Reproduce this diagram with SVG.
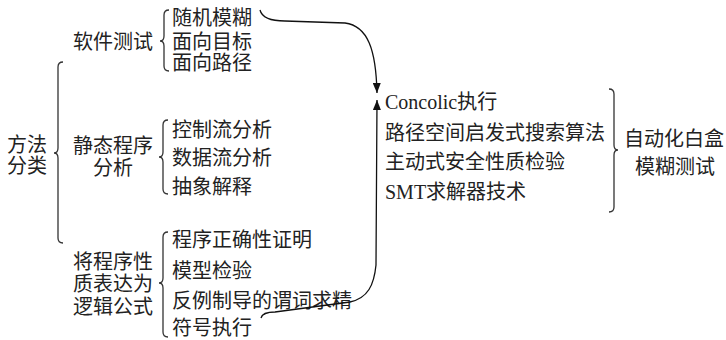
<svg xmlns="http://www.w3.org/2000/svg" width="726" height="340" viewBox="0 0 726 340">
<defs>
<style>
text{font-family:"Liberation Serif","Noto Sans CJK SC",serif;font-size:20px;fill:#222}
.b{fill:none;stroke:#333;stroke-width:1.3}
.c{fill:none;stroke:#111;stroke-width:1.3}
</style>
<marker id="ah" markerUnits="userSpaceOnUse" markerWidth="10" markerHeight="8" refX="10" refY="4" orient="auto">
<path d="M0,0 L10,4 L0,8 z" fill="#111"/>
</marker>
</defs>
<rect width="726" height="340" fill="#fff"/>
<g id="root">
<text x="7" y="152">方法</text>
<text x="7" y="173">分类</text>
<path class="b" d="M63,62 Q58,62 58,67 L58,148 Q58,153 54,153 Q58,153 58,158 L58,238 Q58,243 63,243"/>
</g>
<g id="software-testing">
<text x="73" y="49">软件测试</text>
<path class="b" d="M169,10 Q164,10 164,15 L164,36 Q164,41 160,41 Q164,41 164,46 L164,66 Q164,71 169,71"/>
<text x="172" y="25">随机模糊</text>
<text x="172" y="49">面向目标</text>
<text x="172" y="70">面向路径</text>
</g>
<g id="static-analysis">
<text x="113" y="153" text-anchor="middle">静态程序</text>
<text x="113" y="175" text-anchor="middle">分析</text>
<path class="b" d="M168,120 Q163,120 163,125 L163,152 Q163,157 159,157 Q163,157 163,162 L163,189 Q163,194 168,194"/>
<text x="172" y="137">控制流分析</text>
<text x="172" y="165">数据流分析</text>
<text x="172" y="194">抽象解释</text>
</g>
<g id="logic-formula">
<text x="73" y="269">将程序性</text>
<text x="73" y="291">质表达为</text>
<text x="73" y="314">逻辑公式</text>
<path class="b" d="M168,232 Q163,232 163,237 L163,278 Q163,283 159,283 Q163,283 163,288 L163,332 Q163,337 168,337"/>
<text x="172" y="247">程序正确性证明</text>
<text x="172" y="278">模型检验</text>
<text x="172" y="308">反例制导的谓词求精</text>
<text x="172" y="335">符号执行</text>
</g>
<g id="techniques">
<text x="385" y="109">Concolic执行</text>
<text x="385" y="140">路径空间启发式搜索算法</text>
<text x="385" y="169">主动式安全性质检验</text>
<text x="385" y="199">SMT求解器技术</text>
<path class="b" d="M609,89 Q614,89 614,94 L614,145 Q614,150 618,150 Q614,150 614,155 L614,207 Q614,212 609,212"/>
</g>
<g id="result">
<text x="674" y="146" text-anchor="middle">自动化白盒</text>
<text x="675" y="174" text-anchor="middle">模糊测试</text>
</g>
<g id="connectors">
<path class="c" d="M260,10 C262,18 270,21 285,21 L345,23 C368,26 376,50 377,93" marker-end="url(#ah)"/>
<path class="c" d="M261,318 C262,314 266,312 275,312 L350,302 C368,298 374,285 376,265 L377,100" marker-end="url(#ah)"/>
</g>
</svg>
